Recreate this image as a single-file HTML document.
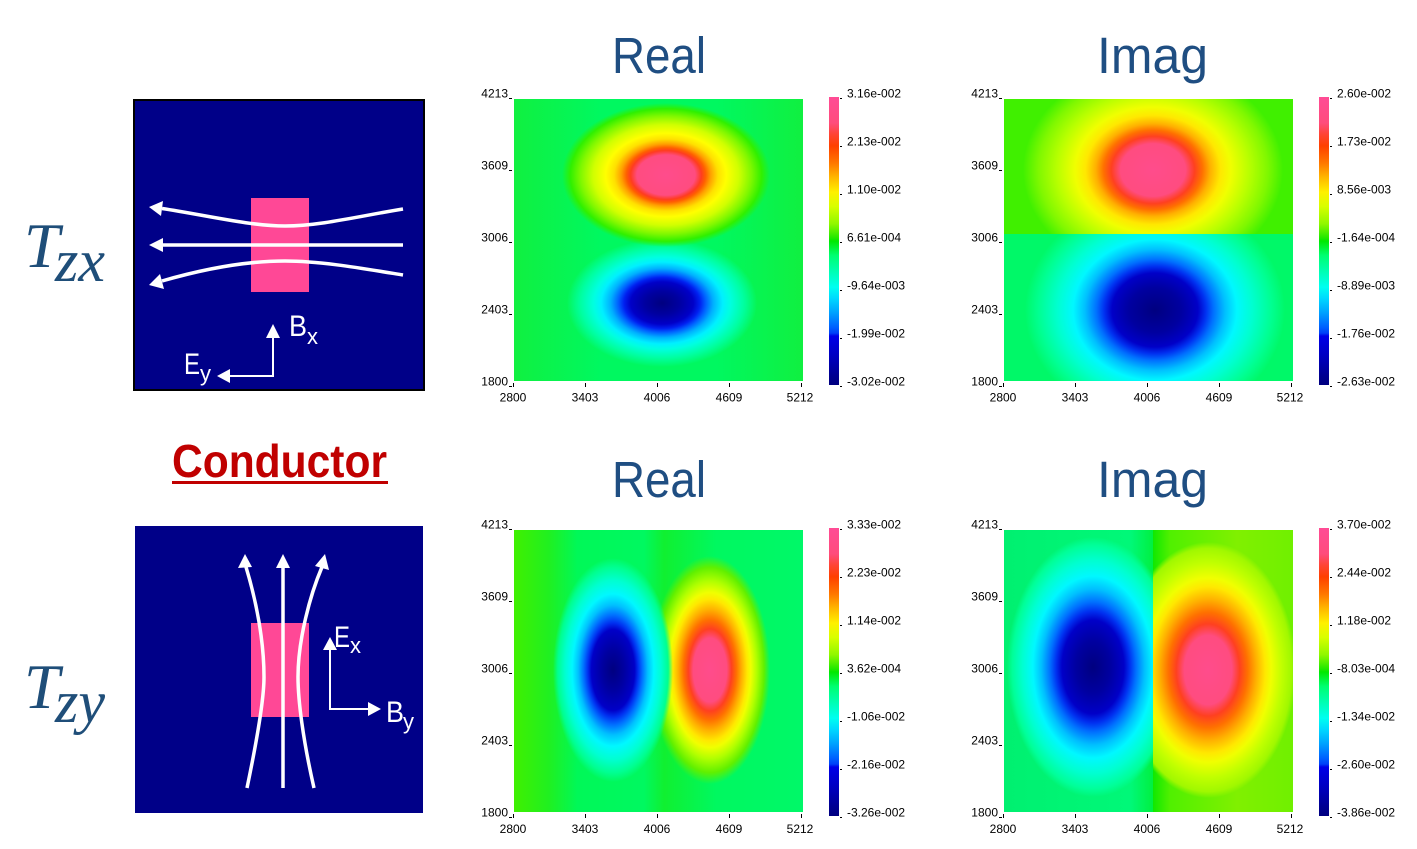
<!DOCTYPE html>
<html>
<head>
<meta charset="utf-8">
<style>
html,body{margin:0;padding:0;background:#fff;}
body{width:1417px;height:849px;position:relative;overflow:hidden;font-family:"Liberation Sans",Arial,sans-serif;}
.plot{position:absolute;width:289px;height:282px;overflow:hidden;}
.half{position:absolute;}
.cbar{position:absolute;width:10px;height:288px;
background:linear-gradient(to bottom,#FF4C96 0%,#FF4C7C 9%,#FF4434 13%,#FF4000 17%,#FF7800 23%,#FFB800 28%,#FFF000 33%,#D8FF00 38%,#90F800 44%,#20E800 49%,#00E800 50%,#00FF70 55%,#00FFB8 61%,#00FFF0 66%,#00D8FF 70%,#00A0FF 75%,#0060FF 80%,#0040F8 82%,#0000E8 83%,#0000C0 90%,#000090 97%,#000080 100%);}
svg{position:absolute;left:0;top:0;}
</style>
</head>
<body>

<!-- Top-left heatmap: Tzx Real -->
<div class="plot" style="left:514px;top:99px;background:
radial-gradient(104px 72px at 152px 76px,#FF4C8C 0%,#FF4C80 28%,#FF3C20 34%,#FF6000 38%,#FFA000 43%,#FFE000 50%,#FFFF00 58%,#D0FF00 70%,#80F800 82%,#30F000 92%,rgba(0,240,40,0) 100%),
radial-gradient(95px 64px at 148px 204px,#000080 0%,#0000A0 18%,#0000C8 33%,#0020F0 40%,#0060FF 46%,#00B0FF 54%,#00F0FF 64%,#00FFE0 72%,#00FFA0 86%,rgba(0,255,100,0) 100%),
linear-gradient(to right,#10F040 0%,#00F860 30%,#00F860 70%,#10F040 100%);"></div>

<!-- Top-right heatmap: Tzx Imag -->
<div class="plot" style="left:1004px;top:99px;">
  <div class="half" style="left:0;top:0;width:289px;height:135px;background:
  radial-gradient(130px 105px at 149px 71px,#FF4C8C 0%,#FF4C80 25%,#FF4020 32%,#FF7000 38%,#FFB000 44%,#FFE800 52%,#F0FF00 60%,#B8FF00 74%,#80F800 88%,rgba(70,240,0,0) 100%),
  #40F000;"></div>
  <div class="half" style="left:0;top:135px;width:289px;height:147px;background:
  radial-gradient(130px 112px at 151px 76px,#000080 0%,#0000A0 20%,#0000C8 33%,#0030F0 39%,#0070FF 45%,#00C0FF 54%,#00F8FF 63%,#00FFD0 75%,#00FF90 90%,rgba(0,255,96,0) 100%),
  #00F868;"></div>
</div>

<!-- Bottom-left heatmap: Tzy Real -->
<div class="plot" style="left:514px;top:530px;background:
radial-gradient(60px 112px at 99px 140px,#000080 0%,#0000A0 18%,#0000C8 36%,#0030F0 42%,#0070FF 49%,#00C0FF 58%,#00F8FF 68%,#00FFD0 80%,#00FF90 92%,rgba(0,255,96,0) 100%),
radial-gradient(60px 114px at 196px 140px,#FF4C8C 0%,#FF4C80 28%,#FF4020 36%,#FF7000 44%,#FFB000 53%,#FFE800 62%,#F0FF00 68%,#B0FF00 78%,#60F000 90%,rgba(40,240,0,0) 100%),
linear-gradient(to right,#40F000 0%,#20F020 12%,#00F858 22%,#00F860 45%,#10F030 52%,#00F860 70%,#00F868 100%);"></div>

<!-- Bottom-right heatmap: Tzy Imag -->
<div class="plot" style="left:1004px;top:530px;">
  <div class="half" style="left:0;top:0;width:149px;height:282px;background:
  radial-gradient(86px 130px at 89px 137px,#000080 0%,#0000A0 20%,#0000C8 36%,#0030F0 43%,#0070FF 50%,#00C0FF 60%,#00F8FF 70%,#00FFD0 82%,#00FF98 94%,rgba(0,255,110,0) 100%),
  linear-gradient(to right,#00F070 0%,#00F878 85%,#00F040 100%);"></div>
  <div class="half" style="left:149px;top:0;width:140px;height:282px;background:
  radial-gradient(88px 128px at 55px 140px,#FF4C8C 0%,#FF4C80 27%,#FF4020 36%,#FF7000 45%,#FFB000 55%,#FFE800 65%,#F0FF00 72%,#C0FF00 84%,#A0F800 95%,rgba(130,240,0,0) 100%),
  linear-gradient(to right,#10E800 0%,#50F000 12%,#80F000 60%,#70F000 100%);"></div>
</div>

<!-- Colorbars -->
<div class="cbar" style="left:829px;top:97px;"></div>
<div class="cbar" style="left:1319px;top:97px;"></div>
<div class="cbar" style="left:829px;top:528px;"></div>
<div class="cbar" style="left:1319px;top:528px;"></div>

<svg width="1417" height="849" viewBox="0 0 1417 849" xmlns="http://www.w3.org/2000/svg">
  <!-- Titles -->
  <g font-family="Liberation Sans, Arial, sans-serif" font-size="51" fill="#1F4E82">
    <text x="612" y="73" textLength="94" lengthAdjust="spacingAndGlyphs">Real</text>
    <text x="1097" y="73" textLength="111" lengthAdjust="spacingAndGlyphs">Imag</text>
    <text x="612" y="497" textLength="94" lengthAdjust="spacingAndGlyphs">Real</text>
    <text x="1097" y="497" textLength="111" lengthAdjust="spacingAndGlyphs">Imag</text>
  </g>

  <!-- Tzx / Tzy -->
  <g font-family="Liberation Serif, serif" font-style="italic" fill="#1F4E79">
    <text x="24" y="267" font-size="64">T</text>
    <text x="55" y="281" font-size="60">zx</text>
    <text x="24" y="708" font-size="64">T</text>
    <text x="55" y="722" font-size="60">zy</text>
  </g>

  <!-- Conductor -->
  <text x="172" y="477" font-family="Liberation Sans, Arial, sans-serif" font-weight="bold" font-size="46" fill="#C00000" textLength="215" lengthAdjust="spacingAndGlyphs">Conductor</text>
  <rect x="172" y="481" width="216" height="3" fill="#C00000"/>

  <!-- Top diagram -->
  <rect x="134" y="100" width="290" height="290" fill="#000088" stroke="#000" stroke-width="2"/>
  <rect x="251" y="198" width="58" height="94" fill="#FF4896"/>
  <g stroke="#fff" stroke-width="3.5" fill="none">
    <path d="M403,209 C360,216 320,226 285,226 C250,226 205,215 162,208.5"/>
    <path d="M403,245 L162,245"/>
    <path d="M403,275 C360,268 320,261 285,261 C245,261 200,270 162,281"/>
  </g>
  <g fill="#fff">
    <polygon points="149,207 161,216 163,201"/>
    <polygon points="149,245 163,238 163,252"/>
    <polygon points="149,285 164,289 160,274"/>
  </g>
  <g stroke="#fff" stroke-width="2" fill="none">
    <path d="M273,337 L273,376 L230,376"/>
  </g>
  <g fill="#fff">
    <polygon points="273,324 266,338 280,338"/>
    <polygon points="217,376 230,369 230,383"/>
  </g>
  <g font-family="Liberation Sans, Arial, sans-serif" fill="#fff">
    <text x="289" y="336" font-size="30" textLength="18" lengthAdjust="spacingAndGlyphs">B</text>
    <text x="307" y="344" font-size="22">x</text>
    <text x="184" y="374" font-size="30" textLength="16" lengthAdjust="spacingAndGlyphs">E</text>
    <text x="200" y="381" font-size="22">y</text>
  </g>

  <!-- Bottom diagram -->
  <rect x="135" y="526" width="288" height="287" fill="#000088"/>
  <rect x="251" y="623" width="58" height="94" fill="#FF4896"/>
  <g stroke="#fff" stroke-width="3.5" fill="none">
    <path d="M283,788 L283,567"/>
    <path d="M247,788 C257,740 264,700 264,677 C264,640 256,600 246,567"/>
    <path d="M314,788 C303,740 298,700 298,677 C298,640 310,595 322,567"/>
  </g>
  <g fill="#fff">
    <polygon points="283,554 276,568 290,568"/>
    <polygon points="245,554 238,568 252,567"/>
    <polygon points="325,554 315,566 329,570"/>
  </g>
  <g stroke="#fff" stroke-width="2" fill="none">
    <path d="M330,649 L330,709 L369,709"/>
  </g>
  <g fill="#fff">
    <polygon points="330,637 323,650 337,650"/>
    <polygon points="381,709 368,702 368,716"/>
  </g>
  <g font-family="Liberation Sans, Arial, sans-serif" fill="#fff">
    <text x="334" y="647" font-size="30" textLength="16" lengthAdjust="spacingAndGlyphs">E</text>
    <text x="350" y="653" font-size="22">x</text>
    <text x="386" y="722" font-size="30" textLength="18" lengthAdjust="spacingAndGlyphs">B</text>
    <text x="403" y="729" font-size="22">y</text>
  </g>

  <!-- Panel TL -->
  <g font-family="Liberation Sans, Arial, sans-serif" font-size="12" fill="#000">
    <g text-anchor="end">
      <text x="508" y="97.5">4213</text>
      <text x="508" y="169.5">3609</text>
      <text x="508" y="241.5">3006</text>
      <text x="508" y="313.5">2403</text>
      <text x="508" y="385.5">1800</text>
    </g>
    <g text-anchor="middle">
      <text x="513" y="401.5">2800</text>
      <text x="585" y="401.5">3403</text>
      <text x="657" y="401.5">4006</text>
      <text x="729" y="401.5">4609</text>
      <text x="800" y="401.5">5212</text>
    </g>
    <g>
      <text x="847" y="97.5">3.16e-002</text>
      <text x="847" y="145.5">2.13e-002</text>
      <text x="847" y="193.5">1.10e-002</text>
      <text x="847" y="241.5">6.61e-004</text>
      <text x="847" y="289.5">-9.64e-003</text>
      <text x="847" y="337.5">-1.99e-002</text>
      <text x="847" y="385.5">-3.02e-002</text>
    </g>
  </g>
  <!-- Panel TR -->
  <g font-family="Liberation Sans, Arial, sans-serif" font-size="12" fill="#000">
    <g text-anchor="end">
      <text x="998" y="97.5">4213</text>
      <text x="998" y="169.5">3609</text>
      <text x="998" y="241.5">3006</text>
      <text x="998" y="313.5">2403</text>
      <text x="998" y="385.5">1800</text>
    </g>
    <g text-anchor="middle">
      <text x="1003" y="401.5">2800</text>
      <text x="1075" y="401.5">3403</text>
      <text x="1147" y="401.5">4006</text>
      <text x="1219" y="401.5">4609</text>
      <text x="1290" y="401.5">5212</text>
    </g>
    <g>
      <text x="1337" y="97.5">2.60e-002</text>
      <text x="1337" y="145.5">1.73e-002</text>
      <text x="1337" y="193.5">8.56e-003</text>
      <text x="1337" y="241.5">-1.64e-004</text>
      <text x="1337" y="289.5">-8.89e-003</text>
      <text x="1337" y="337.5">-1.76e-002</text>
      <text x="1337" y="385.5">-2.63e-002</text>
    </g>
  </g>
  <!-- Panel BL -->
  <g font-family="Liberation Sans, Arial, sans-serif" font-size="12" fill="#000">
    <g text-anchor="end">
      <text x="508" y="528.5">4213</text>
      <text x="508" y="600.5">3609</text>
      <text x="508" y="672.5">3006</text>
      <text x="508" y="744.5">2403</text>
      <text x="508" y="816.5">1800</text>
    </g>
    <g text-anchor="middle">
      <text x="513" y="833">2800</text>
      <text x="585" y="833">3403</text>
      <text x="657" y="833">4006</text>
      <text x="729" y="833">4609</text>
      <text x="800" y="833">5212</text>
    </g>
    <g>
      <text x="847" y="528.5">3.33e-002</text>
      <text x="847" y="576.5">2.23e-002</text>
      <text x="847" y="624.5">1.14e-002</text>
      <text x="847" y="672.5">3.62e-004</text>
      <text x="847" y="720.5">-1.06e-002</text>
      <text x="847" y="768.5">-2.16e-002</text>
      <text x="847" y="816.5">-3.26e-002</text>
    </g>
  </g>
  <!-- Panel BR -->
  <g font-family="Liberation Sans, Arial, sans-serif" font-size="12" fill="#000">
    <g text-anchor="end">
      <text x="998" y="528.5">4213</text>
      <text x="998" y="600.5">3609</text>
      <text x="998" y="672.5">3006</text>
      <text x="998" y="744.5">2403</text>
      <text x="998" y="816.5">1800</text>
    </g>
    <g text-anchor="middle">
      <text x="1003" y="833">2800</text>
      <text x="1075" y="833">3403</text>
      <text x="1147" y="833">4006</text>
      <text x="1219" y="833">4609</text>
      <text x="1290" y="833">5212</text>
    </g>
    <g>
      <text x="1337" y="528.5">3.70e-002</text>
      <text x="1337" y="576.5">2.44e-002</text>
      <text x="1337" y="624.5">1.18e-002</text>
      <text x="1337" y="672.5">-8.03e-004</text>
      <text x="1337" y="720.5">-1.34e-002</text>
      <text x="1337" y="768.5">-2.60e-002</text>
      <text x="1337" y="816.5">-3.86e-002</text>
    </g>
  </g>

  <!-- tick marks -->
  <g stroke="#000" stroke-width="1">
    <path d="M509,98.5h3 M509,170.5h3 M509,242.5h3 M509,314.5h3 M509,386.5h3"/>
    <path d="M513.5,383v4 M585.5,383v4 M657.5,383v4 M729.5,383v4 M801.5,383v4"/>
    <path d="M840,98.5h2 M840,146.5h2 M840,194.5h2 M840,242.5h2 M840,290.5h2 M840,338.5h2 M840,386.5h2"/>
    <path d="M999,98.5h3 M999,170.5h3 M999,242.5h3 M999,314.5h3 M999,386.5h3"/>
    <path d="M1003.5,383v4 M1075.5,383v4 M1147.5,383v4 M1219.5,383v4 M1291.5,383v4"/>
    <path d="M1330,98.5h2 M1330,146.5h2 M1330,194.5h2 M1330,242.5h2 M1330,290.5h2 M1330,338.5h2 M1330,386.5h2"/>
    <path d="M509,529.5h3 M509,601.5h3 M509,673.5h3 M509,745.5h3 M509,817.5h3"/>
    <path d="M513.5,814v4 M585.5,814v4 M657.5,814v4 M729.5,814v4 M801.5,814v4"/>
    <path d="M840,529.5h2 M840,577.5h2 M840,625.5h2 M840,673.5h2 M840,721.5h2 M840,769.5h2 M840,817.5h2"/>
    <path d="M999,529.5h3 M999,601.5h3 M999,673.5h3 M999,745.5h3 M999,817.5h3"/>
    <path d="M1003.5,814v4 M1075.5,814v4 M1147.5,814v4 M1219.5,814v4 M1291.5,814v4"/>
    <path d="M1330,529.5h2 M1330,577.5h2 M1330,625.5h2 M1330,673.5h2 M1330,721.5h2 M1330,769.5h2 M1330,817.5h2"/>
  </g>
</svg>
</body>
</html>
